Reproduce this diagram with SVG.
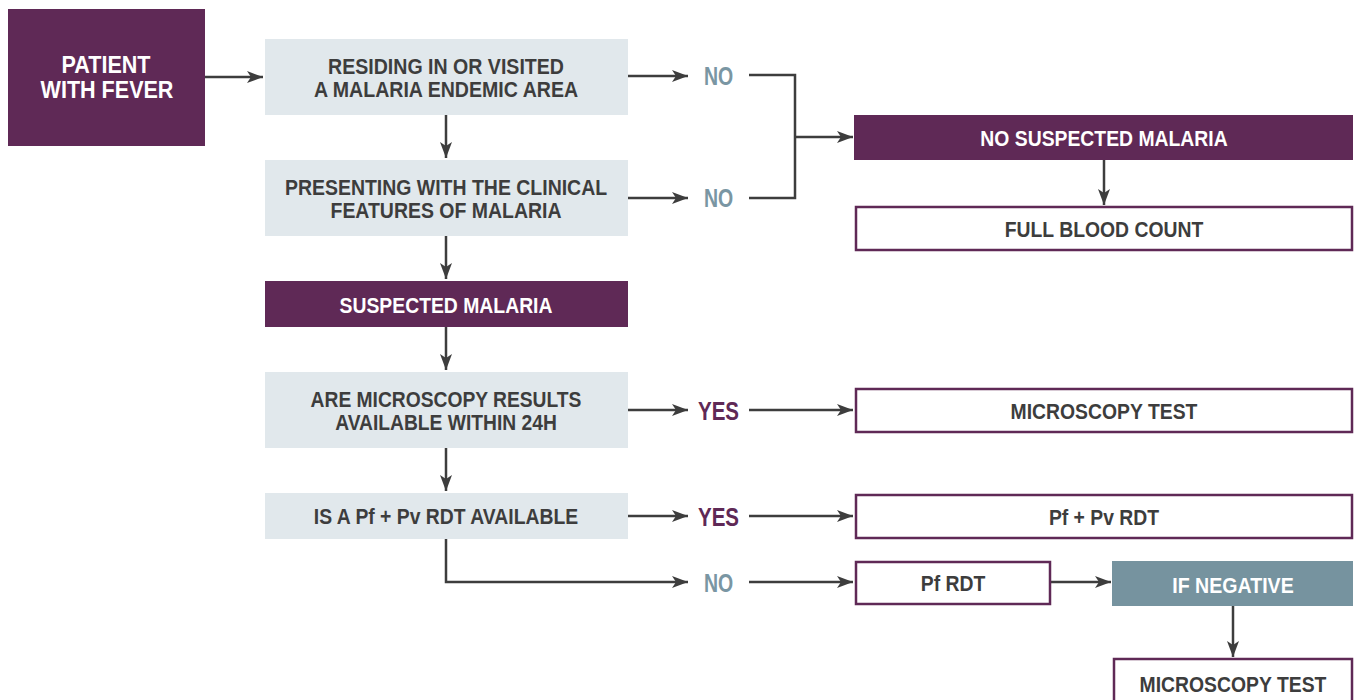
<svg xmlns="http://www.w3.org/2000/svg" width="1356" height="700" viewBox="0 0 1356 700">
<style>
text{font-family:"Liberation Sans",Arial,sans-serif;font-weight:bold;text-anchor:middle}
.q{fill:#e1e8ec}
.p{fill:#5f2956}
.o{fill:#ffffff;stroke:#5f2956;stroke-width:2.5}
.g{fill:#76939f}
.t{fill:#3d3d3d;font-size:22px}
.w{fill:#ffffff;font-size:22px}
.big{font-size:24.5px}
.no{fill:#7a96a3;font-size:26px}
.yes{fill:#5f2956;font-size:26px}
.c{fill:none;stroke:#3d3d3d;stroke-width:2.5}
</style>
<defs>
<marker id="a" viewBox="0 0 16 12" refX="16" refY="6" markerWidth="16" markerHeight="12" markerUnits="userSpaceOnUse" orient="auto">
<path d="M0,0 L16,6 L0,12 L4,6 Z" fill="#3d3d3d"/>
</marker>
</defs>
<g id="connectors">
<path class="c" d="M205,77 H263" marker-end="url(#a)"/>
<path class="c" d="M628,76 H688" marker-end="url(#a)"/>
<path class="c" d="M628,198 H688" marker-end="url(#a)"/>
<path class="c" d="M749,75 H795 V198 H749"/>
<path class="c" d="M795,137 H853" marker-end="url(#a)"/>
<path class="c" d="M1104,160 V205" marker-end="url(#a)"/>
<path class="c" d="M446,115 V158" marker-end="url(#a)"/>
<path class="c" d="M446,236 V279" marker-end="url(#a)"/>
<path class="c" d="M446,327 V370" marker-end="url(#a)"/>
<path class="c" d="M446,448 V491" marker-end="url(#a)"/>
<path class="c" d="M628,410 H688" marker-end="url(#a)"/>
<path class="c" d="M749,410 H853" marker-end="url(#a)"/>
<path class="c" d="M628,516 H688" marker-end="url(#a)"/>
<path class="c" d="M749,516 H853" marker-end="url(#a)"/>
<path class="c" d="M446,539 V582 H688" marker-end="url(#a)"/>
<path class="c" d="M749,582 H853" marker-end="url(#a)"/>
<path class="c" d="M1050,582 H1111" marker-end="url(#a)"/>
<path class="c" d="M1233,606 V657" marker-end="url(#a)"/>
</g>
<g id="n-patient"><rect class="p" x="8" y="9" width="197" height="137"/><text class="w big" transform="translate(106 73) scale(0.88 1)">PATIENT</text><text class="w big" transform="translate(107 98) scale(0.88 1)">WITH FEVER</text></g>
<g id="n-residing"><rect class="q" x="265" y="39" width="363" height="76"/><text class="t" transform="translate(446 74) scale(0.89 1)">RESIDING IN OR VISITED</text><text class="t" transform="translate(446 97) scale(0.89 1)">A MALARIA ENDEMIC AREA</text></g>
<g id="n-presenting"><rect class="q" x="265" y="160" width="363" height="76"/><text class="t" transform="translate(446 195) scale(0.885 1)">PRESENTING WITH THE CLINICAL</text><text class="t" transform="translate(446 218) scale(0.885 1)">FEATURES OF MALARIA</text></g>
<g id="n-suspected"><rect class="p" x="265" y="281" width="363" height="46"/><text class="w" transform="translate(446 313) scale(0.88 1)">SUSPECTED MALARIA</text></g>
<g id="n-microq"><rect class="q" x="265" y="372" width="363" height="76"/><text class="t" transform="translate(446 407) scale(0.875 1)">ARE MICROSCOPY RESULTS</text><text class="t" transform="translate(446 430) scale(0.875 1)">AVAILABLE WITHIN 24H</text></g>
<g id="n-rdtq"><rect class="q" x="265" y="493" width="363" height="46"/><text class="t" transform="translate(446 524) scale(0.88 1)">IS A Pf + Pv RDT AVAILABLE</text></g>
<g id="l-no1"><text class="no" transform="translate(718.5 85) scale(0.75 1)">NO</text></g>
<g id="l-no2"><text class="no" transform="translate(718.5 207) scale(0.75 1)">NO</text></g>
<g id="l-yes1"><text class="yes" transform="translate(718.5 420) scale(0.79 1)">YES</text></g>
<g id="l-yes2"><text class="yes" transform="translate(718.5 526) scale(0.79 1)">YES</text></g>
<g id="l-no3"><text class="no" transform="translate(718.5 592) scale(0.75 1)">NO</text></g>
<g id="n-nosuspected"><rect class="p" x="854" y="115" width="499" height="45"/><text class="w" transform="translate(1104 146) scale(0.88 1)">NO SUSPECTED MALARIA</text></g>
<g id="n-fbc"><rect class="o" x="856" y="207" width="496" height="43"/><text class="t" transform="translate(1104 237) scale(0.88 1)">FULL BLOOD COUNT</text></g>
<g id="n-micro"><rect class="o" x="856" y="389" width="496" height="43"/><text class="t" transform="translate(1104 419) scale(0.88 1)">MICROSCOPY TEST</text></g>
<g id="n-pfpv"><rect class="o" x="856" y="495" width="496" height="43"/><text class="t" transform="translate(1104 525) scale(0.88 1)">Pf + Pv RDT</text></g>
<g id="n-pf"><rect class="o" x="856" y="562" width="194" height="42"/><text class="t" transform="translate(953 591) scale(0.88 1)">Pf RDT</text></g>
<g id="n-ifneg"><rect class="g" x="1112" y="561" width="241" height="45"/><text class="w" transform="translate(1233 593) scale(0.89 1)">IF NEGATIVE</text></g>
<g id="n-micro2"><rect class="o" x="1114" y="659" width="238" height="45"/><text class="t" transform="translate(1233 692) scale(0.88 1)">MICROSCOPY TEST</text></g>
</svg>
